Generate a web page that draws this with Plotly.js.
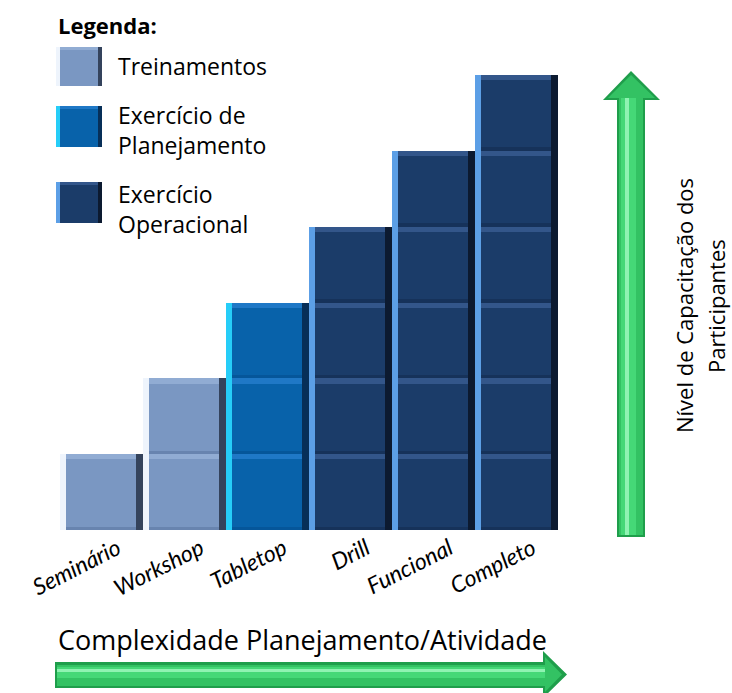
<!DOCTYPE html>
<html><head><meta charset="utf-8">
<script src="https://cdn.plot.ly/plotly-3.0.1.min.js"></script>
<style>html,body{margin:0;padding:0;background:#fff}</style>
</head><body><div id="chart" style="width:732px;height:693px"></div>
<script>
// ---- data ----
const categories = ['Seminário','Workshop','Tabletop','Drill','Funcional','Completo'];
const levels = [1,2,3,4,5,6];
const blockTypes = ['Treinamentos','Treinamentos','Exercício de Planejamento','Exercício Operacional','Exercício Operacional','Exercício Operacional'];
const typeNames = ['Treinamentos','Exercício de Planejamento','Exercício Operacional'];
const legendLabels = ['Treinamentos','Exercício de<br>Planejamento','Exercício<br>Operacional'];
const legendTitle = 'Legenda:';
const xTitle = 'Complexidade Planejamento/Atividade';
const yTitleLines = ['Nível de Capacitação dos','Participantes'];

// ---- styles ----
const palette = {
  'Treinamentos': {main:'#7a97c2', top:'#91acd3', bottom:'#6884af', left:'#eef4fc', right:'#34435c'},
  'Exercício de Planejamento': {main:'#0862aa', top:'#1f78c6', bottom:'#05569a', left:'#26cdf8', right:'#072f58'},
  'Exercício Operacional': {main:'#1b3c69', top:'#33568a', bottom:'#16325a', left:'#5c9fe6', right:'#0c1a30'}
};
const bev = {l:0.07, r:0.085, t:0.07, b:0.045};

const M = {l:60, r:174, t:75, b:163};
const W = 732, H = 693;
const PW = W - M.l - M.r, PH = H - M.t - M.b;
const PX = x => (x - M.l) / PW;
const PY = y => (H - M.b - y) / PH;

const traces = [];
typeNames.forEach(tn => {
  const xs = [], bases = [];
  categories.forEach((c, i) => {
    if (blockTypes[i] !== tn) return;
    for (let k = 0; k < levels[i]; k++) { xs.push(c); bases.push(k); }
  });
  const col = palette[tn];
  const part = (h, baseOff, w, off, color) => ({
    type:'bar', x: xs, y: xs.map(() => h), base: bases.map(b => b + baseOff),
    width: xs.map(() => w), offset: xs.map(() => off),
    marker:{color: color, line:{width:0}}, hoverinfo:'skip', showlegend:false, name: tn
  });
  traces.push(part(1, 0, 1, -0.5, col.main));
  traces.push(part(bev.t, 1 - bev.t, 1, -0.5, col.top));
  traces.push(part(bev.b, 0, 1, -0.5, col.bottom));
  traces.push(part(1, 0, bev.l, -0.5, col.left));
  traces.push(part(1, 0, bev.r, 0.5 - bev.r, col.right));
});

// ---- decorations (legend swatches, arrows) ----
const shapes = [];
const rectPx = (x0, y0, x1, y1, color) => ({type:'rect', xref:'paper', yref:'paper',
  x0: PX(x0), x1: PX(x1), y0: PY(y1), y1: PY(y0), fillcolor: color, line:{width:0}, layer:'above'});
const swatchY = [[47,86],[106,147],[182,223]];
typeNames.forEach((tn, i) => {
  const col = palette[tn];
  const [y0, y1] = swatchY[i];
  shapes.push(rectPx(56, y0, 102, y1, col.main));
  shapes.push(rectPx(56, y0, 102, y0 + 3, col.top));
  shapes.push(rectPx(56, y0, 60, y1, col.left));
  shapes.push(rectPx(98, y0, 102, y1, col.right));
});
const pathPx = (pts, color) => ({type:'path', xref:'paper', yref:'paper', layer:'above',
  path: 'M' + pts.map(p => PX(p[0]).toFixed(5) + ',' + PY(p[1]).toFixed(5)).join(' L') + ' Z',
  fillcolor: color, line:{width:0}});
// horizontal arrow
shapes.push(pathPx([[55,662],[543,662],[543,651],[567,674.5],[543,698],[543,688],[55,688]], '#1f9e4b'));
shapes.push(pathPx([[57,665],[545,665],[545,657],[562,674.5],[545,692],[545,686],[57,686]], '#33c263'));
shapes.push(rectPx(57, 667, 545, 678, '#45d877'));
shapes.push(rectPx(57, 669, 545, 672, '#8ff3b2'));
// vertical arrow
shapes.push(pathPx([[617,537],[617,100],[603,100],[631,71],[660,100],[645,100],[645,537]], '#1f9e4b'));
shapes.push(pathPx([[619,535],[619,98],[608,98],[631,75],[655,98],[643,98],[643,535]], '#33c263'));
shapes.push(rectPx(621, 98, 636, 535, '#45d877'));
shapes.push(rectPx(625, 98, 629, 535, '#8ff3b2'));

const font = 'Open Sans, sans-serif';
const ann = (text, x, y, xa, ya, size, extra) => Object.assign({
  text, xref:'paper', yref:'paper', x: PX(x), y: PY(y), xanchor: xa, yanchor: ya,
  showarrow:false, font:{family: font, size: size, color:'#000'}}, extra || {});
const legendTextY = [66, 129.5, 209];
const annotations = [ann('<b>' + legendTitle + '</b>', 56, 25, 'left', 'middle', 22)];
legendLabels.forEach((t, i) => annotations.push(ann(t, 116, legendTextY[i], 'left', 'middle', 23, {align:'left'})));
annotations.push(ann(xTitle, 302, 639, 'center', 'middle', 27));
const yTitleX = [684, 716];
yTitleLines.forEach((t, j) => annotations.push(ann(t, yTitleX[j], 306, 'center', 'middle', 22, {textangle:-90})));

const layout = {
  width: W, height: H, margin: M, paper_bgcolor:'#fff', plot_bgcolor:'#fff',
  barmode:'overlay', bargap:0, showlegend:false,
  xaxis:{type:'category', range:[-0.5, 5.5], showgrid:false, zeroline:false, showline:false,
    ticks:'', tickangle:-27, ticklabelshift: 16, ticklabelstandoff: 0,
    tickfont:{family:'Lato, sans-serif', size:23, style:'italic', color:'#000'}},
  yaxis:{range:[0, 6], visible:false, fixedrange:true},
  shapes, annotations
};
Plotly.newPlot('chart', traces, layout, {displayModeBar:false, staticPlot:true});
</script></body></html>
